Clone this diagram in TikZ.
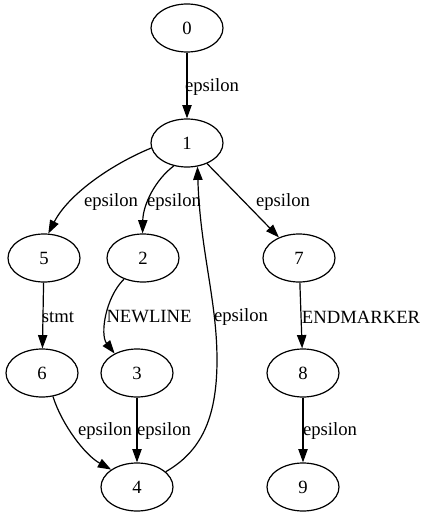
\documentclass[tikz,border=0pt]{standalone}
\usepackage{fontspec}
\setmainfont{Liberation Serif}
\usetikzlibrary{arrows.meta,shapes.geometric}
\begin{document}
\begin{tikzpicture}[x=0.75pt,y=-0.75pt,
  state/.style={draw,ellipse,line width=0.9pt,minimum width=54pt,minimum height=36pt,inner sep=0pt,font=\fontsize{14}{16}\selectfont},
  lbl/.style={inner sep=0pt,font=\fontsize{14}{16}\selectfont},
  edge/.style={draw,line width=0.9pt,-{Triangle[length=10pt,width=7pt]}}]
\useasboundingbox (0,0) rectangle (426,517);
\node[state] (n0) at (187,28) {0};
\node[state] (n1) at (187,143) {1};
\node[state] (n5) at (44,258) {5};
\node[state] (n2) at (143,258) {2};
\node[state] (n7) at (299,258) {7};
\node[state] (n6) at (42,373) {6};
\node[state] (n3) at (137,373) {3};
\node[state] (n8) at (303,373) {8};
\node[state] (n4) at (137,487) {4};
\node[state] (n9) at (303,487) {9};
% edges
\path[edge] (n0) -- (n1);
\path[edge] (n1.188) .. controls (110,165) and (68,195) .. (n5.80);
\path[edge] (n1.-120) .. controls (155,180) and (143,205) .. (n2.91);
\path[edge] (n1) -- (n7);
\path[edge] (n4.28) .. controls (200,452) and (217,420) .. (217,360) .. controls (217,300) and (200,250) .. (n1.-66);
\path[edge] (n5) -- (n6);
\path[edge] (n2.-132) .. controls (105,298) and (100,335) .. (n3.139);
\path[edge] (n7) -- (n8);
\path[edge] (n6.-65) .. controls (62,425) and (85,455) .. (n4.146);
\path[edge] (n3) -- (n4);
\path[edge] (n8) -- (n9);
% labels
\node[lbl] (l01) at (212,87) {epsilon};
\node[lbl] (l15) at (111,202) {epsilon};
\node[lbl] (l12) at (174,202) {epsilon};
\node[lbl] (l17) at (283,202) {epsilon};
\node[lbl] (l56) at (58,317) {stmt};
\node[lbl] (l23) at (149,317) {NEWLINE};
\node[lbl] (l41) at (241,317) {epsilon};
\node[lbl] (l78) at (361,317) {ENDMARKER};
\node[lbl] (l64) at (105,431) {epsilon};
\node[lbl] (l34) at (164,431) {epsilon};
\node[lbl] (l89) at (330,431) {epsilon};
\end{tikzpicture}
\end{document}
